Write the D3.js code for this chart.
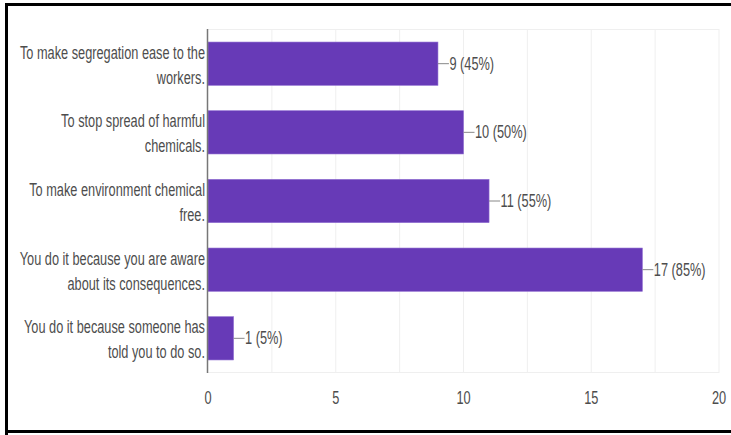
<!DOCTYPE html>
<html>
<head>
<meta charset="utf-8">
<script src="https://cdn.jsdelivr.net/npm/d3@7"></script>
<style>
  body { margin: 0; background: #fff; }
  text { font-family: "Liberation Sans", Arial, sans-serif; }
</style>
</head>
<body>
<svg></svg>
<script>
const categories = [
    ['To make segregation ease to the', 'workers.'],
    ['To stop spread of harmful', 'chemicals.'],
    ['To make environment chemical', 'free.'],
    ['You do it because you are aware', 'about its consequences.'],
    ['You do it because someone has', 'told you to do so.']
];
const counts = [9, 10, 11, 17, 1];
const percents = [45, 50, 55, 85, 5];
const ticks = [0, 5, 10, 15, 20];

let width = 731;
let height = 435;
let fontSize = 18.5;
let squeeze = 0.69;   // the screenshot is narrowed horizontally
let textColor = '#4d4d4d';

let svg = d3.select('svg')
            .attr('width', width)
            .attr('height', height);

// frame
svg.append('path')
    .attr('d', 'M6.5,' + (height + 5) + 'V4.5H' + (width + 5) + 'M5,431.5H' + (width + 5))
    .attr('fill', 'none')
    .attr('stroke', '#000')
    .attr('stroke-width', 3);

let plotLeft = 208, plotRight = 719, plotTop = 29, plotBottom = 373;

let x = d3.scaleLinear().domain([0, 20]).range([plotLeft, plotRight]);
let y = d3.scaleBand().domain(d3.range(categories.length)).range([plotTop, plotBottom]).paddingInner(0.37).paddingOuter(0.19);

// grid every 2.5
let grid = svg.append('g');
grid.selectAll('line')
    .data(d3.range(2.5, 20.1, 2.5))
    .enter().append('line')
    .attr('x1', d => x(d)).attr('x2', d => x(d))
    .attr('y1', plotTop).attr('y2', plotBottom)
    .attr('stroke', '#efefef');
grid.append('line')
    .attr('x1', plotLeft).attr('x2', plotRight)
    .attr('y1', plotTop + 0.5).attr('y2', plotTop + 0.5)
    .attr('stroke', '#efefef');
grid.append('line')
    .attr('x1', plotLeft).attr('x2', plotRight)
    .attr('y1', plotBottom - 0.5).attr('y2', plotBottom - 0.5)
    .attr('stroke', '#efefef');

// bars
svg.selectAll('rect.bar')
    .data(counts)
    .enter().append('rect')
    .attr('class', 'bar')
    .attr('x', x(0))
    .attr('y', (d, i) => y(i))
    .attr('width', d => x(d) - x(0))
    .attr('height', y.bandwidth())
    .attr('fill', '#673ab7')
    .attr('stroke', '#8e6bd0')
    .attr('stroke-width', 0.6);

// value labels with leader line
let vals = svg.selectAll('g.val')
    .data(counts)
    .enter().append('g')
    .attr('class', 'val');
vals.append('line')
    .attr('x1', d => x(d))
    .attr('x2', d => x(d) + 11)
    .attr('y1', (d, i) => y(i) + y.bandwidth() / 2)
    .attr('y2', (d, i) => y(i) + y.bandwidth() / 2)
    .attr('stroke', '#888')
    .attr('stroke-width', 1);
vals.append('text')
    .attr('transform', (d, i) => `translate(${x(d) + 11.5},${y(i) + y.bandwidth() / 2 + 6}) scale(${squeeze},1)`)
    .attr('font-size', fontSize)
    .attr('fill', textColor)
    .text((d, i) => d + ' (' + percents[i] + '%)');

// y axis line
svg.append('line')
    .attr('x1', plotLeft - 0.5).attr('x2', plotLeft - 0.5)
    .attr('y1', plotTop).attr('y2', plotBottom)
    .attr('stroke', '#777')
    .attr('stroke-width', 1.5);

// category labels
let cat = svg.selectAll('text.cat')
    .data(categories)
    .enter().append('text')
    .attr('class', 'cat')
    .attr('text-anchor', 'end')
    .attr('font-size', fontSize)
    .attr('fill', textColor)
    .attr('transform', (d, i) => `translate(${plotLeft - 3},${y(i) + y.bandwidth() / 2 - 5}) scale(${squeeze},1)`);
cat.selectAll('tspan')
    .data(d => d)
    .enter().append('tspan')
    .attr('x', 0)
    .attr('y', (d, j) => j * 25)
    .text(d => d);

// x tick labels
svg.selectAll('text.tick')
    .data(ticks)
    .enter().append('text')
    .attr('class', 'tick')
    .attr('transform', d => `translate(${x(d)},404) scale(${squeeze},1)`)
    .attr('text-anchor', 'middle')
    .attr('font-size', fontSize)
    .attr('fill', textColor)
    .text(d => d);
</script>
</body>
</html>
